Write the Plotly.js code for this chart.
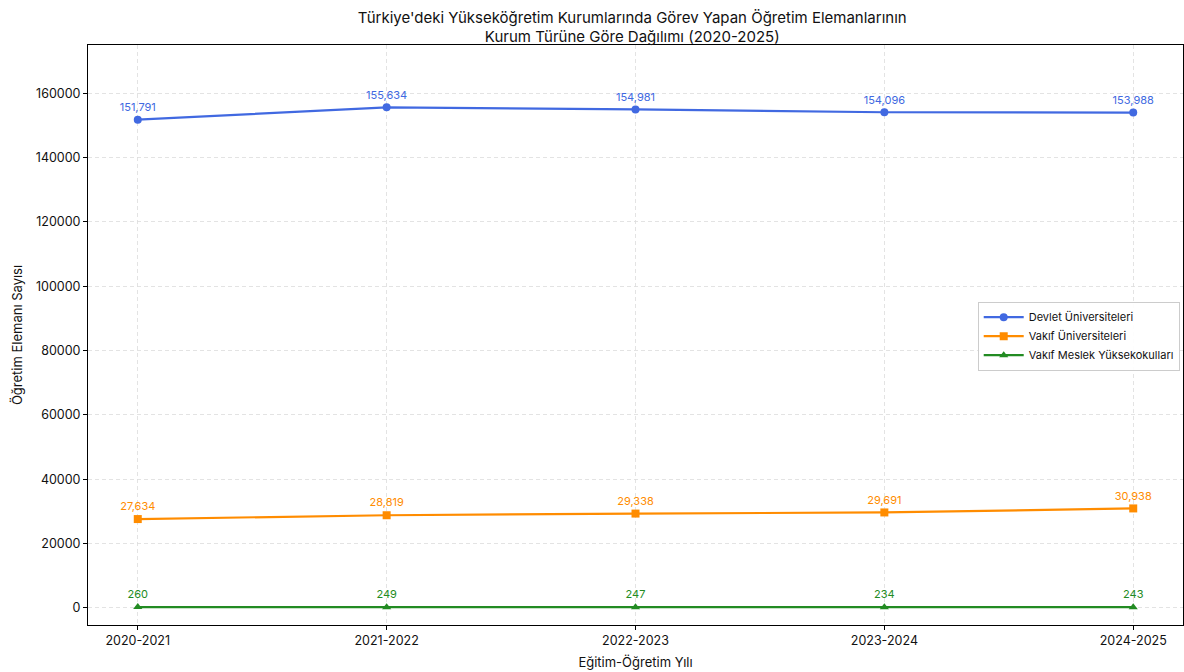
<!DOCTYPE html>
<html><head><meta charset="utf-8">
<script src="https://cdn.plot.ly/plotly-3.0.1.min.js"></script>
<style>html,body{margin:0;padding:0;background:#fff}#c{width:1184px;height:672px}</style>
</head><body><div id="c"></div>
<script>
const years = ["2020-2021","2021-2022","2022-2023","2023-2024","2024-2025"];
const devlet = [151791,155634,154981,154096,153988];
const vakif = [27634,28819,29338,29691,30938];
const vakifMYO = [260,249,247,234,243];
const names = ["Devlet Üniversiteleri","Vakıf Üniversiteleri","Vakıf Meslek Yüksekokulları"];
const colors = ["#4169E1","#FF8C00","#228B22"];
const symbols = ["circle","square","triangle-up"];
const F = "Inter, 'DejaVu Sans', sans-serif";
const series = [devlet, vakif, vakifMYO];
const traces = series.map((s,i)=>({
  x: years, y: s, name: names[i], type:'scatter', mode:'lines+markers+text',
  line:{color:colors[i], width:2.2}, marker:{color:colors[i], symbol:symbols[i], size:8},
  texttemplate:'%{y:,}', textposition:'top center', textfont:{color:colors[i], size:11, family:F},
  cliponaxis:false
}));
const layout = {
  width:1184, height:672, paper_bgcolor:'#fff', plot_bgcolor:'#fff',
  margin:{l:88, r:1, t:45, b:47},
  font:{family:F, color:'#222'},
  title:{text:"Türkiye'deki Yükseköğretim Kurumlarında Görev Yapan Öğretim Elemanlarının<br>Kurum Türüne Göre Dağılımı (2020-2025)", x:0.534, xanchor:'center', yref:'paper', y:1.0345, yanchor:'bottom', pad:{b:5}, font:{size:15, family:F, color:'#111'}},
  xaxis:{range:[-0.2,4.2], showline:true, mirror:true, linecolor:'#000', linewidth:1, ticks:'outside', ticklen:4, tickcolor:'#000',
    showgrid:true, gridcolor:'#dcdcdc', gridwidth:0.8, griddash:'4px,3px', tickfont:{size:12.5, family:F, color:'#111'},
    title:{text:'Eğitim-Öğretim Yılı', font:{size:13, family:F, color:'#111'}, standoff:10}, zeroline:false},
  yaxis:{range:[-5300,175000], tickvals:[0,20000,40000,60000,80000,100000,120000,140000,160000], ticktext:['0','20000','40000','60000','80000','100000','120000','140000','160000'],
    showline:true, mirror:true, linecolor:'#000', linewidth:1, ticks:'outside', ticklen:4, tickcolor:'#000',
    showgrid:true, gridcolor:'#dcdcdc', gridwidth:0.8, griddash:'4px,3px', tickfont:{size:12.5, family:F, color:'#111'},
    title:{text:'Öğretim Elemanı Sayısı', font:{size:13, family:F, color:'#111'}, standoff:10}, zeroline:false},
  legend:{x:0.997, xanchor:'right', y:0.498, yanchor:'middle', bgcolor:'rgba(255,255,255,0.9)', bordercolor:'#ccc', borderwidth:1,
    font:{size:11, family:F, color:'#111'}, tracegroupgap:0, itemwidth:40},
  showlegend:true
};
Plotly.newPlot('c', traces, layout, {displayModeBar:false, staticPlot:true});
</script></body></html>
